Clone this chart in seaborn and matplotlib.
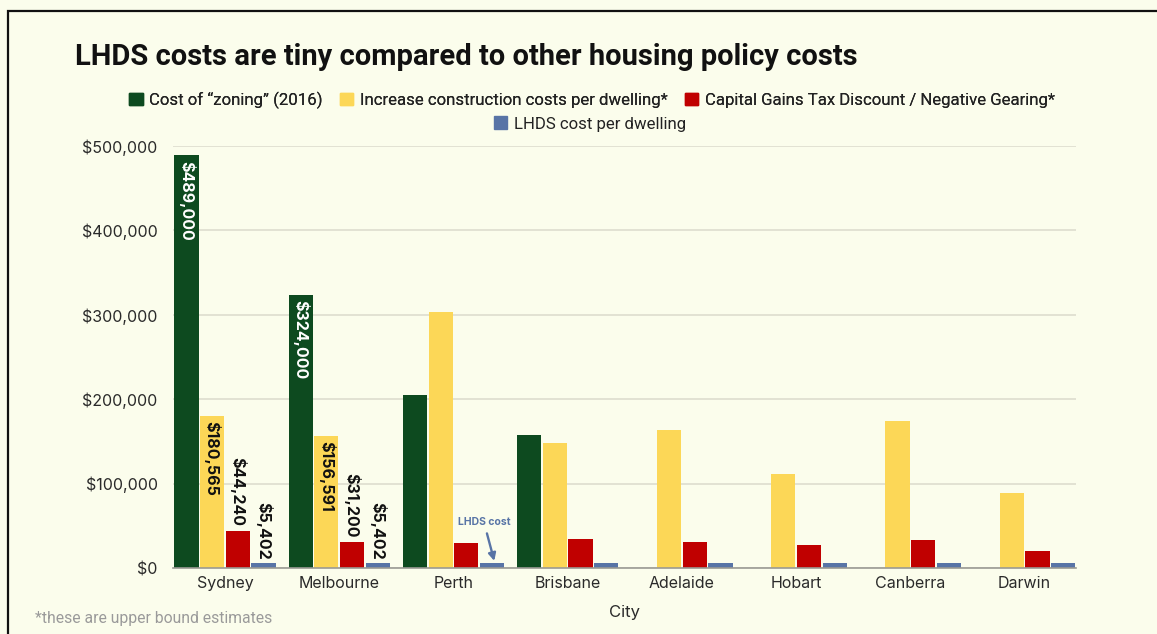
import numpy as np
import pandas as pd
import matplotlib
matplotlib.use("Agg")
import matplotlib.pyplot as plt
from matplotlib.patches import Rectangle
import seaborn as sns

cities = ["Sydney", "Melbourne", "Perth", "Brisbane", "Adelaide", "Hobart", "Canberra", "Darwin"]
zoning = [489000, 324000, 205000, 158000, np.nan, np.nan, np.nan, np.nan]
construction = [180565, 156591, 303000, 148000, 163000, 111000, 174000, 88500]
cgt_ng = [44240, 31200, 30000, 34000, 31000, 27000, 33000, 20000]
lhds = [5402, 5402, 5402, 5402, 5402, 5402, 5402, 5402]

series_names = [
    "Cost of \u201czoning\u201d (2016)",
    "Increase construction costs per dwelling*",
    "Capital Gains Tax Discount / Negative Gearing*",
    "LHDS cost per dwelling",
]
series_values = [zoning, construction, cgt_ng, lhds]
colors = ["#0D4A1F", "#FCD757", "#C00000", "#5874A6"]
labelled_cities = ["Sydney", "Melbourne"]

BG = "#FBFDEC"

rows = []
for name, vals in zip(series_names, series_values):
    for c, v in zip(cities, vals):
        rows.append({"City": c, "Series": name, "Cost": v})
df = pd.DataFrame(rows)

sns.set_theme(style="white")
plt.rcParams["font.family"] = ["Inter", "DejaVu Sans"]

fig = plt.figure(figsize=(11.57, 6.34), dpi=100, facecolor=BG)
ax = fig.add_axes([173 / 1157, 1 - 568 / 634, (1076 - 173) / 1157, (568 - 146) / 634])
ax.set_facecolor(BG)

sns.barplot(
    data=df, x="City", y="Cost", hue="Series", order=cities, hue_order=series_names,
    palette=colors, saturation=1, width=0.9, gap=0.06, ax=ax, legend=False,
    linewidth=0,
)

ax.set_xlim(-0.455, 7.45)
ax.set_ylim(0, 500000)
ax.set_yticks([0, 100000, 200000, 300000, 400000, 500000])
ax.yaxis.set_major_formatter(matplotlib.ticker.FuncFormatter(lambda v, p: f"${v:,.0f}"))
ax.grid(axis="y", color="#DDDDCF", linewidth=1.2, zorder=0)
ax.set_axisbelow(True)
for s in ["top", "right", "left"]:
    ax.spines[s].set_visible(False)
ax.spines["bottom"].set_color("#9A9A94")
ax.spines["bottom"].set_linewidth(1.2)
ax.tick_params(axis="both", length=0, labelsize=11.5, colors="#2A2A2A", pad=11)
ax.tick_params(axis="x", pad=6)
ax.set_ylabel("")
ax.set_xlabel("City", fontsize=12, color="#2A2A2A", labelpad=10)

# value labels on the first two cities
for container, vals, inside, txtcol in zip(
    ax.containers, series_values, [True, True, False, False],
    ["white", "#111111", "#111111", "#111111"],
):
    for patch in container.patches:
        xc = patch.get_x() + patch.get_width() / 2
        idx = int(round(xc))
        if cities[idx] not in labelled_cities:
            continue
        h = patch.get_height()
        label = f"${vals[idx]:,.0f}"
        if inside:
            ax.annotate(label, (xc, h), xytext=(0, -4), textcoords="offset points",
                        rotation=-90, rotation_mode="anchor", ha="left", va="center",
                        fontsize=11.5, fontweight="bold", color=txtcol)
        else:
            ax.annotate(label, (xc, h), xytext=(0, 3), textcoords="offset points",
                        rotation=-90, rotation_mode="anchor", ha="right", va="center",
                        fontsize=11.5, fontweight="bold", color=txtcol)

# pointer to the LHDS bar in Perth
perth = cities.index("Perth")
lhds_x = perth + 0.9 * 3 / 8
ax.annotate("LHDS cost", xy=(lhds_x + 0.02, lhds[perth] + 3000), xytext=(lhds_x - 0.07, 54000),
            ha="center", va="center", fontsize=7.5, fontweight="bold", color=colors[3],
            arrowprops=dict(arrowstyle="-|>", color=colors[3], lw=1.7, mutation_scale=11,
                            shrinkA=2, shrinkB=0))

# legend in two centred rows
handles = [Rectangle((0, 0), 1, 1, color=c) for c in colors]
leg_font = ["Roboto", "DejaVu Sans"]
leg1 = fig.legend(handles[:3], series_names[:3], loc="center", bbox_to_anchor=(592 / 1157, 1 - 100 / 634),
                  ncol=3, frameon=False, prop={"family": leg_font, "size": 12.1},
                  handlelength=0.8, handleheight=0.8, handletextpad=0.4, columnspacing=1.0,
                  labelcolor="#222222")
fig.add_artist(leg1)
fig.legend(handles[3:], series_names[3:], loc="center", bbox_to_anchor=(590 / 1157, 1 - 124 / 634),
           ncol=1, frameon=False, prop={"family": leg_font, "size": 12.1},
           handlelength=0.8, handleheight=0.8, handletextpad=0.4, labelcolor="#222222")

fig.text(75 / 1157, 1 - 57 / 634, "LHDS costs are tiny compared to other housing policy costs",
         ha="left", va="center", fontsize=21, fontweight="bold", color="#111111",
         family=["Roboto", "DejaVu Sans"])
fig.text(35 / 1157, 1 - 619 / 634, "*these are upper bound estimates", ha="left", va="center",
         fontsize=11.3, color="#9A9A9A", family=["Roboto", "DejaVu Sans"])

# frame line
fig.add_artist(Rectangle((8 / 1157, -0.05), 1.1, 1 - 11 / 634 + 0.05, transform=fig.transFigure,
                         fill=False, edgecolor="#111111", linewidth=1.6))

fig.savefig("out.png", dpi=100, facecolor=BG)
